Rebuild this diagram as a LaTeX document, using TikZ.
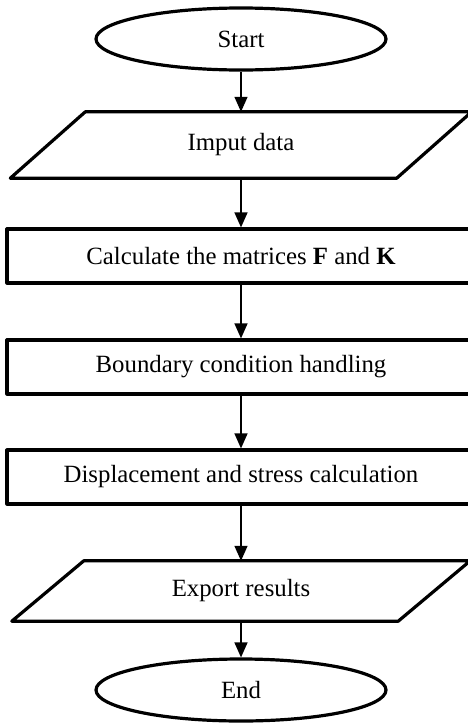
\documentclass[tikz,border=0pt]{standalone}
\usepackage{fontspec}
\setmainfont{Liberation Serif}
\usetikzlibrary{arrows,arrows.meta,shapes.geometric}

\begin{document}
\begin{tikzpicture}[x=1pt,y=-1pt,
  every node/.style={font=\fontsize{24.8}{29}\selectfont},
  outline/.style={line width=3.2pt,line join=round},
  term/.style={draw,ellipse,outline,inner sep=0pt,minimum width=290pt,minimum height=62pt},
  io/.style={rectangle,inner sep=0pt,minimum width=386pt},
  proc/.style={draw,rectangle,outline,inner sep=0pt,minimum width=468pt,minimum height=54pt},
  flow/.style={-{Triangle[length=15pt,width=13pt]},line width=1.4pt}]
 \clip (0,0) rectangle (468,723);
 \node [term] (X1) at (241,39) {Start};
 \node [io,minimum height=66pt] (X2) at (241,145) {Imput data};
 \node [proc] (X3) at (241,256) {Calculate the matrices \textbf{F} and \textbf{K}};
 \node [proc] (X4) at (241,367) {Boundary condition handling};
 \node [proc] (X5) at (241,477) {Displacement and stress calculation};
 \node [io,minimum height=60pt] (X6) at (241,591) {Export results};
 \node [term] (X7) at (241,690) {End};
 % the two parallelograms round the io nodes
 \draw [outline] ([xshift=-37.5pt]X2.south west) -- ([xshift=37.5pt]X2.north west)
   -- ([xshift=37.5pt]X2.north east) -- ([xshift=-37.5pt]X2.south east) -- cycle;
 \draw [outline] ([xshift=-36pt]X6.south west) -- ([xshift=36pt]X6.north west)
   -- ([xshift=36pt]X6.north east) -- ([xshift=-36pt]X6.south east) -- cycle;
 \draw [flow] (X1) -- (X2);
 \draw [flow] (X2) -- (X3);
 \draw [flow] (X3) -- (X4);
 \draw [flow] (X4) -- (X5);
 \draw [flow] (X5) -- (X6);
 \draw [flow] (X6) -- (X7);
\end{tikzpicture}
\end{document}
